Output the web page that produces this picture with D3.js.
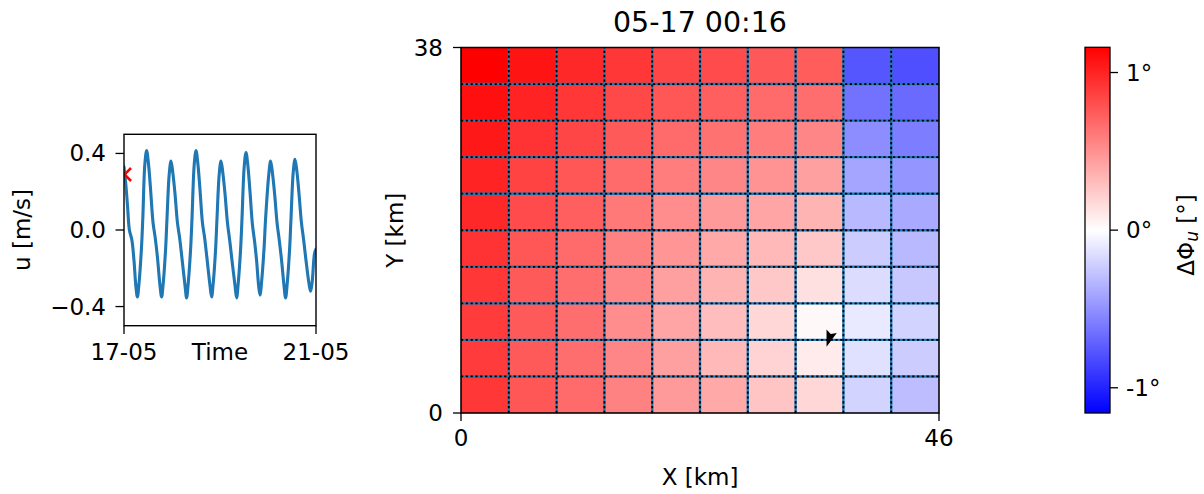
<!DOCTYPE html>
<html>
<head>
<meta charset="utf-8">
<script src="https://cdn.jsdelivr.net/npm/d3@7"></script>
<style>
  body { margin: 0; background: #fff; }
  svg { display: block; font-family: "DejaVu Sans", sans-serif; }
</style>
</head>
<body>
<svg id="fig" width="1204" height="494"></svg>
<script>
// ---- Velocity time series (hours since 17-05 00:00, u in m/s) ----
const timeHours = [
  0.0, 0.9, 1.8, 2.7, 3.9, 5.0, 5.9, 6.7, 7.5, 8.7, 9.4, 10.4, 11.3, 12.2, 13.3, 14.5,
  15.6, 16.7, 18.0, 18.8, 19.6, 20.8, 21.5, 22.6, 23.5, 24.4, 25.5, 26.7, 27.8, 28.9,
  30.5, 31.3, 32.1, 33.3, 34.0, 35.1, 36.0, 36.9, 38.0, 39.2, 40.3, 41.4, 43.0, 43.8,
  44.6, 45.8, 46.5, 47.6, 48.5, 49.4, 50.5, 51.7, 52.8, 53.9, 55.5, 56.3, 57.1, 58.3,
  59.0, 60.1, 61.0, 61.9, 63.0, 64.2, 65.3, 66.3, 67.3, 68.0, 68.8, 70.0, 70.8, 72.4,
  73.3, 74.2, 75.3, 76.5, 77.6, 78.7, 80.0, 80.8, 81.6, 82.8, 83.5, 84.6, 85.5, 86.4,
  87.5, 88.7, 89.8, 90.9, 92.5, 93.3, 94.1, 95.3, 96.0
];
const velocityU = [
  0.33, 0.24, 0.12, 0.00, -0.05, -0.16, -0.29, -0.35, -0.28, -0.10, 0.06, 0.34, 0.415, 0.35, 0.21, 0.04,
  -0.04, -0.14, -0.29, -0.35, -0.28, -0.10, 0.06, 0.29, 0.36, 0.30, 0.19, 0.04, -0.04, -0.14,
  -0.29, -0.355, -0.28, -0.10, 0.06, 0.34, 0.415, 0.35, 0.21, 0.04, -0.04, -0.14, -0.29, -0.35,
  -0.28, -0.10, 0.06, 0.29, 0.36, 0.30, 0.19, 0.04, -0.05, -0.15, -0.29, -0.355, -0.28, -0.10,
  0.06, 0.33, 0.405, 0.34, 0.20, 0.03, -0.06, -0.16, -0.29, -0.34, -0.27, -0.10, 0.06, 0.29,
  0.36, 0.30, 0.19, 0.04, -0.05, -0.15, -0.29, -0.355, -0.28, -0.10, 0.06, 0.30, 0.37, 0.31,
  0.19, 0.04, -0.05, -0.15, -0.28, -0.32, -0.27, -0.12, -0.10
];
const timeDomain = [0, 96];
const timeTicks = [0, 96];
const timeTickLabels = ["17-05", "21-05"];
const uDomain = [-0.5, 0.5];
const uTicks = [-0.4, 0.0, 0.4];
const currentTime = 0.27;   // 00:16
const currentU = 0.29;

// ---- Phase difference field (degrees), first row is the top (Y = 38 km) ----
const xEdgesKm = [0, 4.6, 9.2, 13.8, 18.4, 23.0, 27.6, 32.2, 36.8, 41.4, 46];
const yEdgesKm = [38, 34.2, 30.4, 26.6, 22.8, 19.0, 15.2, 11.4, 7.6, 3.8, 0];
const phaseRows = [
  [1.16, 1.07, 0.98, 0.91, 0.84, 0.82, 0.76, 0.74, -0.77, -0.80],
  [1.09, 1.00, 0.91, 0.83, 0.77, 0.73, 0.68, 0.66, -0.64, -0.68],
  [1.05, 0.93, 0.84, 0.75, 0.68, 0.64, 0.59, 0.55, -0.52, -0.59],
  [1.00, 0.86, 0.77, 0.68, 0.59, 0.55, 0.49, 0.43, -0.41, -0.48],
  [0.98, 0.82, 0.73, 0.61, 0.52, 0.46, 0.41, 0.34, -0.32, -0.39],
  [0.93, 0.77, 0.68, 0.57, 0.48, 0.39, 0.32, 0.25, -0.23, -0.32],
  [0.91, 0.75, 0.66, 0.55, 0.43, 0.34, 0.25, 0.14, -0.16, -0.25],
  [0.89, 0.75, 0.66, 0.52, 0.41, 0.30, 0.18, 0.03, -0.10, -0.20],
  [0.89, 0.75, 0.66, 0.55, 0.43, 0.32, 0.20, 0.09, -0.14, -0.23],
  [0.91, 0.77, 0.68, 0.57, 0.46, 0.39, 0.27, 0.18, -0.20, -0.30]
];
const xTicksKm = [0, 46];
const yTicksKm = [0, 38];
const phaseLimit = 1.16;
const colorbarTicks = [-1, 0, 1];
const colorbarTickLabels = ["-1°", "0°", "1°"];
// velocity arrow at the probe location (km)
const arrowTail = [35.67, 8.5];
const arrowTip = [35.18, 6.88];
const titleText = "05-17 00:16";

const svg = d3.select("#fig");
const FS = 23;
const blue = "#1f77b4";

// ================= time series panel =================
const tx = d3.scaleLinear(timeDomain, [124, 316]);
const ty = d3.scaleLinear(uDomain, [325.7, 134.3]);

svg.append("clipPath").attr("id", "tsClip")
  .append("rect").attr("x", 124).attr("y", 134.3).attr("width", 192).attr("height", 191.4);

const ts = svg.append("g").attr("clip-path", "url(#tsClip)");
ts.append("path")
  .datum(d3.zip(timeHours, velocityU))
  .attr("fill", "none").attr("stroke", blue).attr("stroke-width", 3.1)
  .attr("stroke-linejoin", "round").attr("stroke-linecap", "round")
  .attr("d", d3.line().x(d => tx(d[0])).y(d => ty(d[1])).curve(d3.curveCatmullRom.alpha(0.5)));

const mx = tx(currentTime), my = ty(currentU), ms = 6.5;
ts.append("path")
  .attr("d", `M${mx - ms},${my - ms}L${mx + ms},${my + ms}M${mx - ms},${my + ms}L${mx + ms},${my - ms}`)
  .attr("stroke", "red").attr("stroke-width", 2.6).attr("fill", "none");

svg.append("rect").attr("x", 124).attr("y", 134.3).attr("width", 192).attr("height", 191.4)
  .attr("fill", "none").attr("stroke", "#000").attr("stroke-width", 1.4);

uTicks.forEach(v => {
  svg.append("line").attr("x1", 115.5).attr("x2", 124).attr("y1", ty(v)).attr("y2", ty(v))
    .attr("stroke", "#000").attr("stroke-width", 1.3);
  svg.append("text").attr("x", 106).attr("y", ty(v)).attr("text-anchor", "end")
    .attr("dominant-baseline", "central").attr("font-size", FS).text(d3.format(".1f")(v));
});
timeTicks.forEach((t, i) => {
  svg.append("line").attr("x1", tx(t)).attr("x2", tx(t)).attr("y1", 325.7).attr("y2", 334)
    .attr("stroke", "#000").attr("stroke-width", 1.3);
  svg.append("text").attr("x", tx(t)).attr("y", 360).attr("text-anchor", "middle")
    .attr("font-size", FS).text(timeTickLabels[i]);
});
svg.append("text").attr("x", 220).attr("y", 360).attr("text-anchor", "middle")
  .attr("font-size", FS).text("Time");
svg.append("text").attr("transform", "translate(30,230) rotate(-90)").attr("text-anchor", "middle")
  .attr("font-size", FS).text("u [m/s]");

// ================= phase map =================
const X0 = 461, X1 = 939, Y0 = 413, Y1 = 47.5;
const mxs = d3.scaleLinear([0, 46], [X0, X1]);
const mys = d3.scaleLinear([0, 38], [Y0, Y1]);
const color = d3.scaleLinear([-phaseLimit, 0, phaseLimit], ["#0000ff", "#ffffff", "#ff0000"]);

const cells = [];
phaseRows.forEach((row, r) => row.forEach((v, c) => cells.push({ r, c, v })));

svg.append("g").selectAll("rect").data(cells).join("rect")
  .attr("x", d => mxs(xEdgesKm[d.c]))
  .attr("y", d => mys(yEdgesKm[d.r]))
  .attr("width", d => mxs(xEdgesKm[d.c + 1]) - mxs(xEdgesKm[d.c]))
  .attr("height", d => mys(yEdgesKm[d.r + 1]) - mys(yEdgesKm[d.r]))
  .attr("fill", d => color(d.v))
  .attr("stroke", "rgba(0,0,0,0.3)").attr("stroke-width", 0.8);

// cell boundaries: solid blue under black dashes
const gridLines = [];
xEdgesKm.slice(1, -1).forEach(x => gridLines.push([mxs(x), Y0, mxs(x), Y1]));
yEdgesKm.slice(1, -1).forEach(y => gridLines.push([X0, mys(y), X1, mys(y)]));
const gl = svg.append("g");
gl.selectAll("line.b").data(gridLines).join("line").attr("class", "b")
  .attr("x1", d => d[0]).attr("y1", d => d[1]).attr("x2", d => d[2]).attr("y2", d => d[3])
  .attr("stroke", blue).attr("stroke-width", 2.4);
gl.selectAll("line.k").data(gridLines).join("line").attr("class", "k")
  .attr("x1", d => d[0]).attr("y1", d => d[1]).attr("x2", d => d[2]).attr("y2", d => d[3])
  .attr("stroke", "#000").attr("stroke-width", 1.8).attr("stroke-dasharray", "2.2,2.6");

// arrow head at the probe location
{
  const tail = [mxs(arrowTail[0]), mys(arrowTail[1])];
  const tip = [mxs(arrowTip[0]), mys(arrowTip[1])];
  const dx = tip[0] - tail[0], dy = tip[1] - tail[1];
  const len = Math.hypot(dx, dy);
  const ux = dx / len, uy = dy / len, nx = -uy, ny = ux;
  const hw = 5.4, notch = 3;
  const p = [
    tip,
    [tail[0] + nx * hw, tail[1] + ny * hw],
    [tail[0] + ux * notch, tail[1] + uy * notch],
    [tail[0] - nx * hw, tail[1] - ny * hw]
  ];
  svg.append("path").attr("d", "M" + p.map(q => q.join(",")).join("L") + "Z").attr("fill", "#000");
}

svg.append("rect").attr("x", X0).attr("y", Y1).attr("width", X1 - X0).attr("height", Y0 - Y1)
  .attr("fill", "none").attr("stroke", "#000").attr("stroke-width", 1.5);

yTicksKm.forEach(v => {
  svg.append("line").attr("x1", X0 - 8).attr("x2", X0).attr("y1", mys(v)).attr("y2", mys(v))
    .attr("stroke", "#000").attr("stroke-width", 1.3);
  svg.append("text").attr("x", X0 - 18).attr("y", mys(v)).attr("text-anchor", "end")
    .attr("dominant-baseline", "central").attr("font-size", FS).text(v);
});
xTicksKm.forEach(v => {
  svg.append("line").attr("x1", mxs(v)).attr("x2", mxs(v)).attr("y1", Y0).attr("y2", Y0 + 8)
    .attr("stroke", "#000").attr("stroke-width", 1.3);
  svg.append("text").attr("x", mxs(v)).attr("y", 446).attr("text-anchor", "middle")
    .attr("font-size", FS).text(v);
});
svg.append("text").attr("x", (X0 + X1) / 2).attr("y", 485).attr("text-anchor", "middle")
  .attr("font-size", FS).text("X [km]");
svg.append("text").attr("transform", `translate(403,${(Y0 + Y1) / 2}) rotate(-90)`)
  .attr("text-anchor", "middle").attr("font-size", FS).text("Y [km]");
svg.append("text").attr("x", (X0 + X1) / 2).attr("y", 31.5).attr("text-anchor", "middle")
  .attr("font-size", 28.5).text(titleText);

// ================= colorbar =================
const CB0 = 1085, CB1 = 1110, CT = 47.3, CBt = 413;
const cy = d3.scaleLinear([-phaseLimit, phaseLimit], [CBt, CT]);
const grad = svg.append("defs").append("linearGradient").attr("id", "bwr")
  .attr("x1", 0).attr("y1", 1).attr("x2", 0).attr("y2", 0);
[-phaseLimit, 0, phaseLimit].forEach(v => {
  grad.append("stop").attr("offset", (v + phaseLimit) / (2 * phaseLimit)).attr("stop-color", color(v));
});
svg.append("rect").attr("x", CB0).attr("y", CT).attr("width", CB1 - CB0).attr("height", CBt - CT)
  .attr("fill", "url(#bwr)").attr("stroke", "#000").attr("stroke-width", 1.3);
colorbarTicks.forEach((v, i) => {
  svg.append("line").attr("x1", CB1).attr("x2", CB1 + 8).attr("y1", cy(v)).attr("y2", cy(v))
    .attr("stroke", "#000").attr("stroke-width", 1.3);
  svg.append("text").attr("x", CB1 + 16).attr("y", cy(v)).attr("dominant-baseline", "central")
    .attr("font-size", FS).text(colorbarTickLabels[i]);
});
const cbl = svg.append("text").attr("transform", "translate(1194,235) rotate(-90)")
  .attr("text-anchor", "middle").attr("font-size", FS);
cbl.append("tspan").text("ΔΦ");
cbl.append("tspan").attr("font-style", "italic").attr("font-size", 17).attr("dy", 4).text("u");
cbl.append("tspan").attr("dy", -4).text(" [°]");
</script>
</body>
</html>
